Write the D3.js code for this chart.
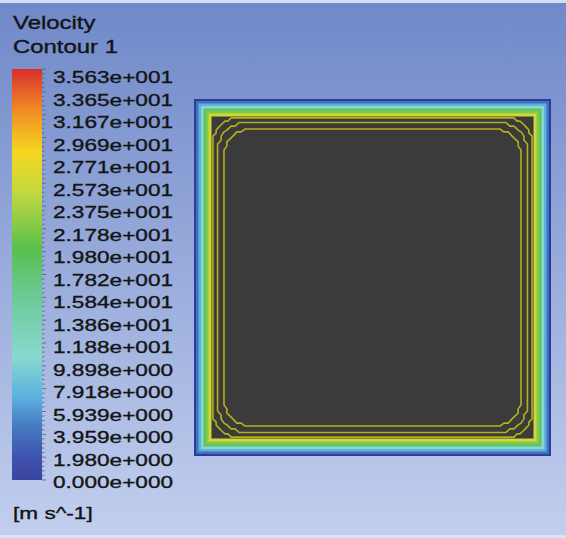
<!DOCTYPE html>
<html>
<head>
<meta charset="utf-8">
<script src="https://cdn.jsdelivr.net/npm/d3@7"></script>
<style>
  html, body { margin: 0; padding: 0; background: #fff; }
  svg { display: block; }
</style>
</head>
<body>
<svg id="chart" width="566" height="538"></svg>
<script>
// Legend tick values (m s^-1), top to bottom
const tickValues = [35.63, 33.65, 31.67, 29.69, 27.71, 25.73, 23.75, 21.78, 19.80,
                    17.82, 15.84, 13.86, 11.88, 9.898, 7.918, 5.939, 3.959, 1.980, 0.000];
const tickLabels = ["3.563e+001", "3.365e+001", "3.167e+001", "2.969e+001", "2.771e+001",
                    "2.573e+001", "2.375e+001", "2.178e+001", "1.980e+001", "1.782e+001",
                    "1.584e+001", "1.386e+001", "1.188e+001", "9.898e+000", "7.918e+000",
                    "5.939e+000", "3.959e+000", "1.980e+000", "0.000e+000"];

// Colour map stops (velocity -> colour)
const mapValues = [0.0, 1.8, 4.6, 7.1, 10.7, 16.4, 20.0, 24.9, 28.5, 32.1, 35.63];
const mapColors = ["#3a45a0", "#3e52ad", "#4678c0", "#5ab0e0", "#88d8d0", "#68c890",
                   "#58c04c", "#c2d840", "#f6d61e", "#f08a26", "#d8302a"];

// Duct cross-section: side length (mm) and velocity bands from the wall inward
const ductSide = 100;
const bandStart = [0.0, 0.56, 1.26, 1.96, 2.66, 3.36, 4.06];      // wall distance (mm)
const bandVelocity = [0.99, 3.96, 7.2, 10.9, 18.5, 22.0, 25.8];   // m/s
const coreStart = 4.9;                                              // mm

// Iso-velocity lines: top-left corner branch, running from the top wall side to the
// left wall side (x from left wall, y from top wall, mm); mirrored into the other corners
const contourLines = [
  [[11.5, 5.3], [10.4, 5.3], [9.5, 6.2], [8.7, 6.2], [7.8, 7.0], [7.0, 7.8],
   [6.2, 8.7], [6.2, 9.5], [5.3, 10.4], [5.3, 11.5]],
  [[14.0, 6.6], [12.6, 6.6], [11.5, 7.6], [10.4, 7.6], [9.2, 8.7], [8.4, 9.2],
   [7.6, 10.4], [7.6, 11.5], [6.6, 12.6], [6.6, 14.0]],
  [[15.7, 8.4], [14.3, 8.4], [13.2, 9.2], [12.0, 9.2], [10.9, 10.4], [10.4, 10.9],
   [9.2, 12.0], [9.2, 13.2], [8.4, 14.3], [8.4, 15.7]]
];

const svg = d3.select("#chart");
const W = 566, H = 538;

// Background gradient
const defs = svg.append("defs");
const bg = defs.append("linearGradient").attr("id", "bg")
  .attr("x1", 0).attr("y1", 0).attr("x2", 0).attr("y2", 1);
bg.append("stop").attr("offset", "0%").attr("stop-color", "#6f88c8");
bg.append("stop").attr("offset", "100%").attr("stop-color", "#c2cfee");
svg.append("rect").attr("width", W).attr("height", H).attr("fill", "url(#bg)");
svg.append("rect").attr("width", W).attr("height", 3).attr("fill", "#d6ddf2");
svg.append("rect").attr("y", H - 3).attr("width", W).attr("height", 3).attr("fill", "#dde3f5");

// Colour scale
const color = d3.scaleLinear().domain(mapValues).range(mapColors).interpolate(d3.interpolateRgb);

// Legend bar
const barX = 12, barW = 30, barTop = 69, barBottom = 480;
const vBar = d3.scaleLinear().domain([0, 35.63]).range([barBottom, barTop]);
const cg = defs.append("linearGradient").attr("id", "cbar")
  .attr("x1", 0).attr("y1", 1).attr("x2", 0).attr("y2", 0);
mapValues.forEach((v, i) => {
  cg.append("stop").attr("offset", (v / 35.63 * 100) + "%").attr("stop-color", mapColors[i]);
});
svg.append("rect").attr("x", barX).attr("y", barTop)
  .attr("width", barW).attr("height", barBottom - barTop).attr("fill", "url(#cbar)");

// Minor ticks along the right edge of the bar
const minor = d3.range(0, 18 * 5 + 1).map(i => i * 35.63 / 90);
svg.append("g").selectAll("line").data(minor).join("line")
  .attr("x1", barX + barW).attr("x2", d => barX + barW + ((Math.round(d / 35.63 * 90) % 5 === 0) ? 4 : 2.5))
  .attr("y1", d => vBar(d)).attr("y2", d => vBar(d))
  .attr("stroke", "#55607a").attr("stroke-width", 0.8);

// Label positions (evenly spread)
const labelY = d3.scaleLinear().domain([0, tickLabels.length - 1]).range([83, 488]);
const sx = 1.33;
function stretched(sel, x, y, txt, size) {
  sel.append("text")
    .attr("transform", `translate(${x},${y}) scale(${sx},1)`)
    .attr("font-family", "Liberation Sans, Arial, sans-serif")
    .attr("font-size", size)
    .attr("fill", "#141414")
    .attr("stroke", "#141414")
    .attr("stroke-width", 0.35)
    .text(txt);
}
const lg = svg.append("g");
tickLabels.forEach((t, i) => stretched(lg, 53, labelY(i), t, 17));
stretched(lg, 13, 29, "Velocity", 18);
stretched(lg, 13, 53, "Contour 1", 18);
stretched(lg, 13, 519, "[m s^-1]", 17);

// Duct cross-section
const x = d3.scaleLinear().domain([0, ductSide]).range([194, 551]);
const y = d3.scaleLinear().domain([0, ductSide]).range([99, 456]);
const duct = svg.append("g");
bandStart.forEach((d, i) => {
  duct.append("rect")
    .attr("x", x(d)).attr("y", y(d))
    .attr("width", x(ductSide - d) - x(d)).attr("height", y(ductSide - d) - y(d))
    .attr("fill", i === 0 ? "#2c3c9a" : color(bandVelocity[i]));
});
duct.append("rect")
  .attr("x", x(coreStart)).attr("y", y(coreStart))
  .attr("width", x(ductSide - coreStart) - x(coreStart))
  .attr("height", y(ductSide - coreStart) - y(coreStart))
  .attr("fill", "#3a3b3a");

// Closed iso-line built by mirroring the corner branch into all four corners
function loop(branch) {
  const S = ductSide;
  const tl = branch.slice().reverse();                                   // left side -> top side
  const tr = branch.map(([a, b]) => [S - a, b]);                          // top side -> right side
  const br = branch.slice().reverse().map(([a, b]) => [S - a, S - b]);    // right side -> bottom side
  const bl = branch.map(([a, b]) => [a, S - b]);                          // bottom side -> left side
  return tl.concat(tr, br, bl);
}
const line = d3.line().x(d => x(d[0])).y(d => y(d[1])).curve(d3.curveLinearClosed);
duct.append("g").selectAll("path").data(contourLines).join("path")
  .attr("d", d => line(loop(d)))
  .attr("fill", "none").attr("stroke", "#b4b01e").attr("stroke-width", 1.6)
  .attr("stroke-linejoin", "round");
</script>
</body>
</html>
